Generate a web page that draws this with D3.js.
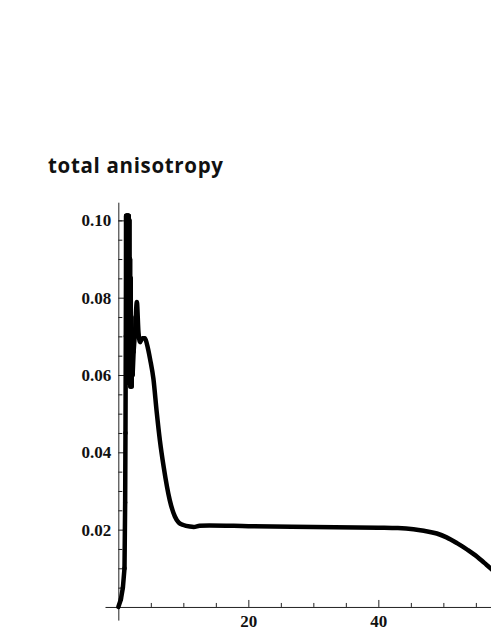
<!DOCTYPE html>
<html>
<head>
<meta charset="utf-8">
<script src="https://cdn.jsdelivr.net/npm/d3@7"></script>
<style>
    html, body { margin: 0; padding: 0; background: #fff; }
    svg { display: block; }
</style>
</head>
<body>
<div id="chart"></div>
<script>
const xValues = [0, 0.4, 0.7, 0.95, 1.05, 1.1, 1.15, 1.2, 1.25, 1.3, 1.35, 1.4, 1.45, 1.5, 1.55, 1.6, 1.65, 1.7, 1.75, 1.8, 1.85, 1.9, 1.95, 2.0, 2.05, 2.1, 2.2, 2.35, 2.6, 2.85, 3.1, 3.35, 3.7, 4.1, 4.4, 4.9, 5.4, 5.9, 6.4, 6.97, 7.9, 8.7, 9.3, 10, 11, 11.6, 12.5, 14, 20, 30, 40, 43, 45.4, 47, 49, 50.5, 52.1, 53.7, 55.2, 56.3, 57.4, 58.5];
const yValues = [0, 0.002, 0.005, 0.01, 0.027, 0.045, 0.07, 0.1012, 0.058, 0.1012, 0.058, 0.1012, 0.06, 0.1012, 0.058, 0.1012, 0.059, 0.1, 0.058, 0.09, 0.057, 0.085, 0.058, 0.075, 0.057, 0.07, 0.06, 0.066, 0.072, 0.0789, 0.071, 0.0685, 0.0695, 0.0695, 0.068, 0.064, 0.059, 0.0505, 0.043, 0.0363, 0.0277, 0.0234, 0.0218, 0.0212, 0.0208, 0.0207, 0.021, 0.0211, 0.0209, 0.0207, 0.0205, 0.0204, 0.0201, 0.0197, 0.019, 0.018, 0.0165, 0.0148, 0.013, 0.0114, 0.0098, 0.008];
const yMajorTicks = [0.02, 0.04, 0.06, 0.08, 0.10];
const yMinorTicks = [0.005, 0.01, 0.015, 0.025, 0.03, 0.035, 0.045, 0.05, 0.055, 0.065, 0.07, 0.075, 0.085, 0.09, 0.095, 0.1];
const xMajorTicks = [20, 40];
const xMinorTicks = [5, 10, 15, 25, 30, 35, 45, 50, 55];
const title = "total anisotropy";

(() => {
    const width = 491, height = 635;

    const svg = d3.select("#chart")
        .append("svg")
        .attr("width", width)
        .attr("height", height);

    svg.append("text")
        .attr("x", 48)
        .attr("y", 172.5)
        .attr("textLength", 175)
        .attr("lengthAdjust", "spacing")
        .text(title)
        .style("font-family", "'Open Sans', 'Noto Sans', sans-serif")
        .style("font-weight", "bold")
        .style("font-size", "20.5px")
        .attr("fill", "#111");

    const x = d3.scaleLinear()
        .domain([-2.05, 60.5])
        .range([105, 511.6]);

    const y = d3.scaleLinear()
        .domain([-0.0034, 0.1047])
        .range([620.1, 202.2]);

    const x0 = x(0), y0 = y(0);

    // minor ticks first
    svg.append("g")
        .attr("transform", `translate(${x0},0)`)
        .call(d3.axisLeft(y).tickValues(yMinorTicks).tickSize(-4).tickSizeOuter(0).tickFormat(""))
        .call(g => g.select(".domain").remove());

    svg.append("g")
        .attr("transform", `translate(0,${y0})`)
        .call(d3.axisBottom(x).tickValues(xMinorTicks).tickSize(-4).tickSizeOuter(0).tickFormat(""))
        .call(g => g.select(".domain").remove());

    const yAxis = svg.append("g")
        .attr("transform", `translate(${x0},0)`)
        .call(d3.axisLeft(y)
            .tickValues(yMajorTicks)
            .tickSize(-7)
            .tickSizeOuter(0)
            .tickPadding(7)
            .tickFormat(d3.format(".2f")));

    const xAxis = svg.append("g")
        .attr("transform", `translate(0,${y0})`)
        .call(d3.axisBottom(x)
            .tickValues(xMajorTicks)
            .tickSize(-7)
            .tickSizeOuter(0)
            .tickPadding(8)
            .tickFormat(d3.format("d")));

    [yAxis, xAxis].forEach(g => {
        g.selectAll("text")
            .style("font-family", "'Liberation Serif', 'Times New Roman', serif")
            .style("font-weight", "bold")
            .style("font-size", "17px")
            .attr("fill", "#111");
    });
    svg.selectAll(".domain, .tick line").attr("stroke", "#222");

    const points = xValues.map((v, i) => [v, yValues[i]]);

    // the oscillating spike is drawn segment by segment (a single zigzag path gets holes)
    const split = xValues.indexOf(2.35);

    const smooth = d3.line()
        .x(d => x(d[0]))
        .y(d => y(d[1]))
        .curve(d3.curveMonotoneX);

    const straight = d3.line()
        .x(d => x(d[0]))
        .y(d => y(d[1]));

    const curve = svg.append("g")
        .attr("fill", "none")
        .attr("stroke", "#000")
        .attr("stroke-width", 4.5)
        .attr("stroke-linejoin", "round")
        .attr("stroke-linecap", "round");

    curve.selectAll(".seg")
        .data(d3.pairs(points.slice(0, split + 1)))
        .enter()
        .append("path")
        .attr("class", "seg")
        .attr("d", straight);

    curve.append("path")
        .datum(points.slice(split))
        .attr("d", smooth);
})();
</script>
</body>
</html>
